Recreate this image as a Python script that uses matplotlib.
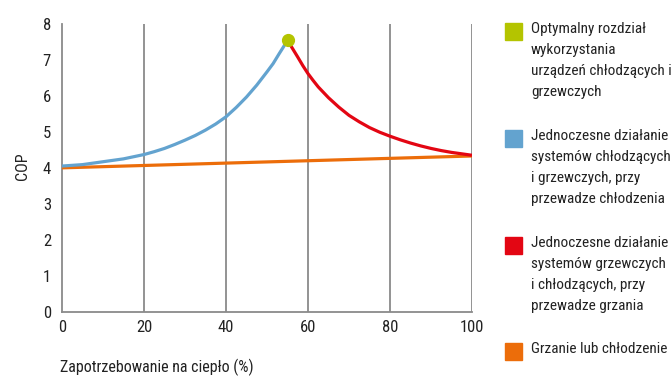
import matplotlib
matplotlib.use("Agg")
from matplotlib import pyplot as plt
from matplotlib import font_manager
from matplotlib.patches import Rectangle

# szukamy waskiej czcionki (oryginal uzywa Helvetica Condensed)
names = set(f.name for f in font_manager.fontManager.ttflist)
narrow = None
for cand in ['Liberation Sans Narrow', 'Roboto Condensed', 'Open Sans Condensed', 'Noto Sans Condensed']:
    if cand in names:
        narrow = cand
        break
if narrow:
    plt.rcParams['font.family'] = [narrow, 'DejaVu Sans']
else:
    plt.rcParams['font.family'] = ['DejaVu Sans']
    plt.rcParams['font.stretch'] = 'condensed'

# dane
cooling_x = [0, 2.5, 5, 7.5, 10, 12.5, 15, 17.5, 20, 22.5, 25, 27.5, 30, 32.5, 35,
             37.5, 40, 42.5, 45, 47.5, 50, 51.5, 53, 54, 55]
cooling_cop = [4.05, 4.07, 4.09, 4.13, 4.17, 4.21, 4.25, 4.31, 4.37, 4.45, 4.54, 4.65,
               4.77, 4.90, 5.05, 5.22, 5.42, 5.68, 5.97, 6.30, 6.67, 6.90, 7.18, 7.36, 7.55]

heating_x = [55, 56, 57.5, 58.75, 60, 61.25, 62.5, 63.75, 65, 67.5, 70, 72.5, 75,
             77.5, 80, 82.5, 85, 87.5, 90, 92.5, 95, 97.5, 100]
heating_cop = [7.55, 7.36, 7.08, 6.84, 6.62, 6.43, 6.25, 6.10, 5.95, 5.69, 5.46, 5.28,
               5.12, 4.99, 4.88, 4.78, 4.69, 4.61, 4.54, 4.48, 4.43, 4.39, 4.35]

single_x = [0, 100]
single_cop = [4.0, 4.33]

optimum_x = [55]
optimum_cop = [7.55]

x_ticks = [0, 20, 40, 60, 80, 100]
y_ticks = [0, 1, 2, 3, 4, 5, 6, 7, 8]

legend_labels = [
    "Optymalny rozdział\nwykorzystania\nurządzeń chłodzących i\ngrzewczych",
    "Jednoczesne działanie\nsystemów chłodzących\ni grzewczych, przy\nprzewadze chłodzenia",
    "Jednoczesne działanie\nsystemów grzewczych\ni chłodzących, przy\nprzewadze grzania",
    "Grzanie lub chłodzenie",
]
colors = ['#b4c400', '#63a3cf', '#e30613', '#ec6d0a']

fig = plt.figure(figsize=(6.71, 3.76), dpi=100)
ax = fig.add_axes([62 / 671, 1 - 311.7 / 376, 410 / 671, 287.7 / 376])

ax.plot(single_x, single_cop, color=colors[3], lw=2.3, solid_capstyle='butt', zorder=3)
ax.plot(cooling_x, cooling_cop, color=colors[1], lw=2.3, solid_capstyle='butt',
        solid_joinstyle='round', zorder=4)
ax.plot(heating_x, heating_cop, color=colors[2], lw=2.3, solid_capstyle='butt',
        solid_joinstyle='round', zorder=4)
ax.plot(optimum_x, optimum_cop, 'o', color=colors[0], ms=8.5, zorder=5, clip_on=False)

ax.set_xlim(0, 100)
ax.set_ylim(0, 8)
ax.set_xticks(x_ticks)
ax.set_yticks(y_ticks)
ax.tick_params(length=0, labelsize=12, colors='#222222', pad=6)
ax.tick_params(axis='y', pad=8)
for x in x_ticks[1:]:
    ax.axvline(x, color='#8a8a8a', lw=1.3, zorder=1)
for side in ['top', 'right']:
    ax.spines[side].set_visible(False)
for side in ['left', 'bottom']:
    ax.spines[side].set_color('#8a8a8a')
    ax.spines[side].set_linewidth(1.3)

fig.text(22 / 671, 1 - 166 / 376, "COP", rotation=90, ha='center', va='center',
         fontsize=11.5, color='#222222')
fig.text(60 / 671, 1 - 367 / 376, "Zapotrzebowanie na ciepło (%)", ha='left', va='center',
         fontsize=11.5, color='#222222')

# legenda rysowana recznie
tops = [23, 130, 237, 343]
texts = []
for top, label, c in zip(tops, legend_labels, colors):
    fig.patches.append(Rectangle((505 / 671, 1 - (top + 17) / 376), 17 / 671, 17 / 376,
                                 transform=fig.transFigure, color=c, figure=fig))
    t = fig.text(531 / 671, 1 - (top - 1) / 376, label, ha='left', va='top',
                 fontsize=11.5, color='#222222', linespacing=1.45)
    texts.append(t)

# dopasowanie rozmiaru tekstu legendy do szerokosci (ok. 140 px)
renderer = fig.canvas.get_renderer()
widest = 0
for t in texts:
    for line in t.get_text().split('\n'):
        probe = fig.text(0, 0, line, fontsize=11.5)
        widest = max(widest, probe.get_window_extent(renderer).width)
        probe.remove()
size = min(12, 11.5 * 140 / widest)
for t in texts:
    t.set_fontsize(size)
    t.set_linespacing(1.55 * 11.5 / size)

fig.savefig("out.png", dpi=100)
